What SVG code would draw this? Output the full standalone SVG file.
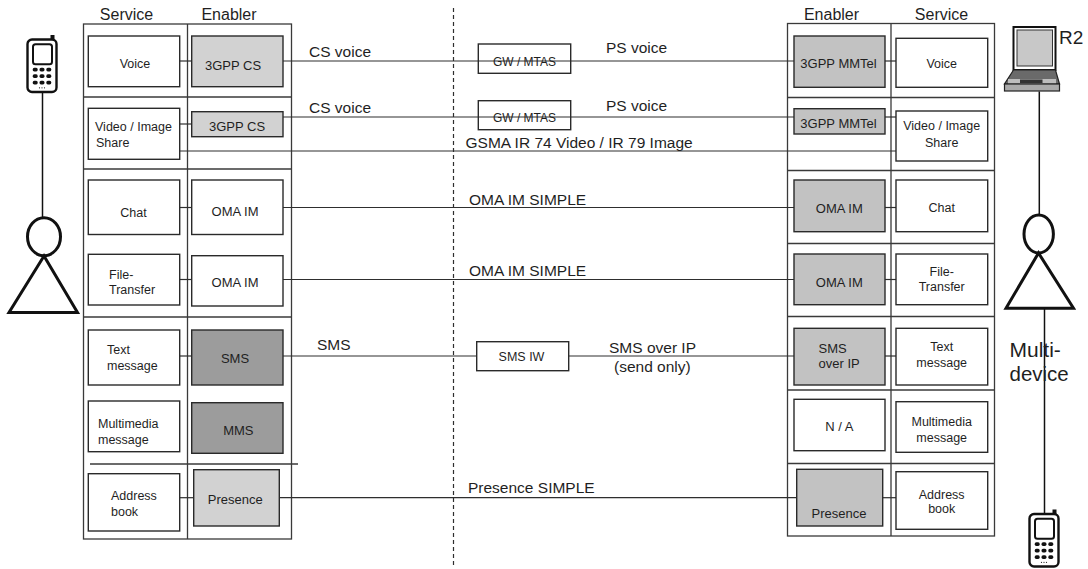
<svg xmlns="http://www.w3.org/2000/svg" width="1088" height="569" viewBox="0 0 1088 569">
  <style>
    text { font-family: "Liberation Sans", Arial, sans-serif; fill: #1f1f1f; }
    .hdr { font-size: 16px; text-anchor: middle; }
    .svc { font-size: 12.5px; }
    .mid { text-anchor: middle; }
    .en { font-size: 13px; text-anchor: middle; }
    .lbl { font-size: 15.5px; }
    .small { font-size: 12px; text-anchor: middle; }
    .tbl { fill: none; stroke: #3a3a3a; stroke-width: 1.3; }
    .box { fill: #ffffff; stroke: #2a2a2a; stroke-width: 1.4; }
    .light { fill: #d2d2d2; stroke: #2a2a2a; stroke-width: 1.4; }
    .mid-gray { fill: #c2c2c2; stroke: #2a2a2a; stroke-width: 1.4; }
    .dark { fill: #9c9c9c; stroke: #2a2a2a; stroke-width: 1.4; }
    .wire { fill: none; stroke: #2e2e2e; stroke-width: 1.2; }
    .fig { fill: none; stroke: #111; stroke-width: 3; }
    .thin { fill: none; stroke: #111; stroke-width: 1.5; }
  </style>
  <defs>
    <!-- mobile handset, origin at top-left of the body -->
    <g id="handset">
      <rect x="23" y="-4.5" width="4" height="6" fill="#111"/>
      <rect x="0" y="0" width="29" height="52.5" rx="4.5" fill="#fff" stroke="#111" stroke-width="2.4"/>
      <rect x="5.5" y="4.8" width="19" height="20" rx="2.5" fill="#fff" stroke="#111" stroke-width="2"/>
      <g fill="#111">
        <rect x="5.2" y="28.3" width="5" height="3.6" rx="1.6"/>
        <rect x="12" y="28.3" width="5" height="3.6" rx="1.6"/>
        <rect x="18.8" y="28.3" width="5" height="3.6" rx="1.6"/>
        <rect x="5.2" y="34.8" width="5" height="3.6" rx="1.6"/>
        <rect x="12" y="34.8" width="5" height="3.6" rx="1.6"/>
        <rect x="18.8" y="34.8" width="5" height="3.6" rx="1.6"/>
        <rect x="5.2" y="41.3" width="5" height="3.6" rx="1.6"/>
        <rect x="12" y="41.3" width="5" height="3.6" rx="1.6"/>
        <rect x="18.8" y="41.3" width="5" height="3.6" rx="1.6"/>
        <circle cx="12" cy="48.3" r="0.6"/>
        <circle cx="14.5" cy="48.3" r="0.6"/>
        <circle cx="17" cy="48.3" r="0.6"/>
      </g>
    </g>
  </defs>

  <!-- domain boundary -->
  <line x1="453.5" y1="8" x2="453.5" y2="565" stroke="#2e2e2e" stroke-width="1.2" stroke-dasharray="4 3"/>

  <!-- left user -->
  <g id="user-left">
    <use href="#handset" transform="translate(27.5,39.5)"/>
    <line class="thin" x1="42.5" y1="92" x2="42.5" y2="218"/>
    <ellipse class="fig" cx="44" cy="236.7" rx="16.5" ry="19"/>
    <polygon class="fig" points="44,256 9,312.5 77.5,312.5"/>
  </g>

  <!-- right user with laptop and handset -->
  <g id="user-right">
    <rect x="1013.5" y="27" width="42" height="43" fill="#fff" stroke="#111" stroke-width="2"/>
    <rect x="1017" y="30" width="35.5" height="36" fill="#c8c8c8" stroke="#333" stroke-width="1"/>
    <polygon points="1013.5,70 1055.5,70 1059.5,84 1004.5,84" fill="#6a6a6a" stroke="#222" stroke-width="1.2"/>
    <rect x="1008" y="79" width="48" height="4.5" fill="#bdbdbd"/>
    <rect x="1020" y="79.5" width="22.5" height="3.5" fill="#333"/>
    <rect x="1004.5" y="84" width="55" height="7" fill="#aaaaaa" stroke="#222" stroke-width="1.2"/>
    <text x="1059" y="43.5" style="font-size:19px">R2</text>
    <line class="thin" x1="1039.3" y1="91.5" x2="1039.3" y2="215"/>
    <ellipse class="fig" cx="1038.7" cy="234" rx="14.7" ry="19"/>
    <polygon class="fig" points="1038.5,253 1006,308.3 1073.5,308.3"/>
    <line class="thin" x1="1044.5" y1="309" x2="1044.5" y2="513"/>
    <text x="1009.5" y="357" style="font-size:21px">Multi-</text>
    <text x="1009.5" y="381" style="font-size:20.5px">device</text>
    <use href="#handset" transform="translate(1029.5,514)"/>
  </g>

  <!-- left table frame -->
  <g id="table-left">
    <text class="hdr" x="126.5" y="20">Service</text>
    <text class="hdr" x="229" y="20">Enabler</text>
    <rect class="tbl" x="83.5" y="24" width="208" height="515"/>
    <line class="tbl" x1="187.5" y1="24" x2="187.5" y2="539"/>
    <line class="tbl" x1="83.5" y1="97" x2="291.5" y2="97"/>
    <line class="tbl" x1="83.5" y1="169" x2="291.5" y2="169"/>
    <line class="tbl" x1="83.5" y1="317" x2="291.5" y2="317"/>
    <line class="tbl" x1="90" y1="464" x2="298" y2="464"/>
  </g>

  <!-- right table frame -->
  <g id="table-right">
    <text class="hdr" x="831.5" y="20">Enabler</text>
    <text class="hdr" x="941.5" y="20">Service</text>
    <rect class="tbl" x="787.5" y="23.5" width="207" height="512.5"/>
    <line class="tbl" x1="891" y1="23.5" x2="891" y2="536"/>
    <line class="tbl" x1="787.5" y1="97.5" x2="994.5" y2="97.5"/>
    <line class="tbl" x1="787.5" y1="170.5" x2="994.5" y2="170.5"/>
    <line class="tbl" x1="787.5" y1="243.5" x2="994.5" y2="243.5"/>
    <line class="tbl" x1="787.5" y1="316.5" x2="994.5" y2="316.5"/>
    <line class="tbl" x1="787.5" y1="390" x2="994.5" y2="390"/>
    <line class="tbl" x1="787.5" y1="463.5" x2="994.5" y2="463.5"/>
  </g>

  <!-- connectors -->
  <g id="connectors">
    <line class="wire" x1="179.7" y1="61" x2="191.7" y2="61"/>
    <line class="wire" x1="283" y1="61" x2="794" y2="61"/>
    <line class="wire" x1="885" y1="61" x2="896" y2="61"/>

    <line class="wire" x1="179.7" y1="124" x2="191.7" y2="124"/>
    <line class="wire" x1="283" y1="117" x2="794" y2="117"/>
    <line class="wire" x1="885" y1="117" x2="896" y2="117"/>
    <line class="wire" x1="179.7" y1="151" x2="896" y2="151"/>

    <line class="wire" x1="179.7" y1="207.5" x2="191.7" y2="207.5"/>
    <line class="wire" x1="283" y1="207.5" x2="794" y2="207.5"/>
    <line class="wire" x1="885" y1="207.5" x2="896" y2="207.5"/>

    <line class="wire" x1="179.7" y1="279.5" x2="191.7" y2="279.5"/>
    <line class="wire" x1="283" y1="279.5" x2="794" y2="279.5"/>
    <line class="wire" x1="885" y1="279.5" x2="896" y2="279.5"/>

    <line class="wire" x1="179.7" y1="356" x2="191.7" y2="356"/>
    <line class="wire" x1="283" y1="356" x2="476.7" y2="356"/>
    <line class="wire" x1="568.7" y1="356" x2="794" y2="356"/>
    <line class="wire" x1="885" y1="356" x2="896" y2="356"/>

    <line class="wire" x1="179.7" y1="497.7" x2="193.7" y2="497.7"/>
    <line class="wire" x1="279.3" y1="497.7" x2="796.7" y2="497.7"/>
    <line class="wire" x1="882.7" y1="497.7" x2="896" y2="497.7"/>

    <text class="lbl" x="309" y="56.7">CS voice</text>
    <text class="lbl" x="606" y="53">PS voice</text>
    <text class="lbl" x="309" y="112.7">CS voice</text>
    <text class="lbl" x="606" y="111">PS voice</text>
    <text class="lbl" x="465.5" y="148.3">GSMA IR 74 Video / IR 79 Image</text>
    <text class="lbl" x="469" y="205">OMA IM SIMPLE</text>
    <text class="lbl" x="469" y="275.5">OMA IM SIMPLE</text>
    <text class="lbl" x="317" y="350">SMS</text>
    <text class="lbl" x="609" y="352.7">SMS over IP</text>
    <text class="lbl" x="614" y="371.7">(send only)</text>
    <text class="lbl" x="468" y="493">Presence SIMPLE</text>
  </g>

  <!-- interworking nodes -->
  <g id="gw-mtas-1">
    <rect x="478.3" y="44" width="92.4" height="29.3" fill="none" stroke="#2a2a2a" stroke-width="1.4"/>
    <text class="small" x="524.5" y="65.5">GW / MTAS</text>
  </g>
  <g id="gw-mtas-2">
    <rect x="478.3" y="100.7" width="92.4" height="29" fill="none" stroke="#2a2a2a" stroke-width="1.4"/>
    <text class="small" x="524.5" y="122">GW / MTAS</text>
  </g>
  <g id="sms-iw">
    <rect class="box" x="476.7" y="341.7" width="92" height="29"/>
    <text class="small" x="521.5" y="361" style="font-size:12.5px">SMS IW</text>
  </g>

  <!-- left services -->
  <g id="l-voice"><rect class="box" x="88.3" y="36" width="91.4" height="50.7"/><text class="svc mid" x="135" y="67.5">Voice</text></g>
  <g id="l-video"><rect class="box" x="88.3" y="108.3" width="91.4" height="51"/><text class="svc" x="95" y="130.7">Video / Image</text><text class="svc" x="96" y="146.7">Share</text></g>
  <g id="l-chat"><rect class="box" x="88.3" y="180" width="91.4" height="54.5"/><text class="svc mid" x="133.5" y="216.7">Chat</text></g>
  <g id="l-file"><rect class="box" x="88.3" y="254.3" width="91.4" height="50.7"/><text class="svc" x="109" y="279.3">File-</text><text class="svc" x="109" y="294.3">Transfer</text></g>
  <g id="l-text"><rect class="box" x="88.3" y="330" width="91.4" height="55"/><text class="svc" x="107" y="354">Text</text><text class="svc" x="107" y="370">message</text></g>
  <g id="l-mm"><rect class="box" x="88.3" y="401" width="91.4" height="50.7"/><text class="svc" x="98" y="427.7">Multimedia</text><text class="svc" x="98" y="444">message</text></g>
  <g id="l-addr"><rect class="box" x="88.3" y="473.7" width="91.4" height="57.3"/><text class="svc" x="111" y="500">Address</text><text class="svc" x="111" y="516">book</text></g>

  <!-- left enablers -->
  <g id="l-cs1"><rect class="light" x="191.7" y="36" width="91.3" height="50.7"/><text class="en" x="233" y="70">3GPP CS</text></g>
  <g id="l-cs2"><rect class="light" x="191.7" y="111.7" width="91.3" height="25"/><text class="en" x="237" y="130.5">3GPP CS</text></g>
  <g id="l-im1"><rect class="box" x="191.7" y="180" width="91.3" height="54.5"/><text class="en" x="235" y="216">OMA IM</text></g>
  <g id="l-im2"><rect class="box" x="191.7" y="255.7" width="91.3" height="50.3"/><text class="en" x="235" y="286.7">OMA IM</text></g>
  <g id="l-sms"><rect class="dark" x="191.7" y="330" width="91.3" height="55"/><text class="en" x="235" y="363.3">SMS</text></g>
  <g id="l-mms"><rect class="dark" x="191.7" y="402.7" width="91.3" height="50.6"/><text class="en" x="238.3" y="435">MMS</text></g>
  <g id="l-pres"><rect class="light" x="193.7" y="469.7" width="85.6" height="56.3"/><text class="en" x="235.3" y="504.3">Presence</text></g>

  <!-- right enablers -->
  <g id="r-mmtel1"><rect class="mid-gray" x="794" y="36" width="91" height="51.3"/><text class="en" x="838.5" y="68.3">3GPP MMTel</text></g>
  <g id="r-mmtel2"><rect class="mid-gray" x="794" y="108.7" width="91" height="25.3"/><text class="en" x="838.5" y="128.3">3GPP MMTel</text></g>
  <g id="r-im1"><rect class="mid-gray" x="794" y="180" width="91" height="51.7"/><text class="en" x="839.3" y="213.3">OMA IM</text></g>
  <g id="r-im2"><rect class="mid-gray" x="794" y="254" width="91" height="50.7"/><text class="en" x="839.3" y="286.7">OMA IM</text></g>
  <g id="r-smsip"><rect class="mid-gray" x="794" y="328.3" width="91" height="56.7"/><text class="en" x="818.5" y="353.3" style="text-anchor:start">SMS</text><text class="en" x="818.5" y="368.3" style="text-anchor:start">over IP</text></g>
  <g id="r-na"><rect class="box" x="794" y="399.3" width="91" height="51.4"/><text class="en" x="839.3" y="430.7">N / A</text></g>
  <g id="r-pres"><rect class="mid-gray" x="796.7" y="469.3" width="86" height="56.7"/><text class="en" x="839" y="518.3">Presence</text></g>

  <!-- right services -->
  <g id="r-voice"><rect class="box" x="896" y="38.3" width="91.7" height="49"/><text class="svc mid" x="941.7" y="68">Voice</text></g>
  <g id="r-video"><rect class="box" x="896" y="111" width="91.7" height="50"/><text class="svc mid" x="941.7" y="130">Video / Image</text><text class="svc mid" x="941.7" y="147.3">Share</text></g>
  <g id="r-chat"><rect class="box" x="896" y="180" width="91.7" height="51.7"/><text class="svc mid" x="941.7" y="211.7">Chat</text></g>
  <g id="r-file"><rect class="box" x="896" y="254" width="91.7" height="50.7"/><text class="svc mid" x="941.7" y="276">File-</text><text class="svc mid" x="941.7" y="290.7">Transfer</text></g>
  <g id="r-text"><rect class="box" x="896" y="328.3" width="91.7" height="56.7"/><text class="svc mid" x="941.7" y="350.7">Text</text><text class="svc mid" x="941.7" y="366.7">message</text></g>
  <g id="r-mm"><rect class="box" x="896" y="401.7" width="91.7" height="50.6"/><text class="svc mid" x="941.7" y="425.7">Multimedia</text><text class="svc mid" x="941.7" y="441.7">message</text></g>
  <g id="r-addr"><rect class="box" x="896" y="471.7" width="91.7" height="57.6"/><text class="svc mid" x="941.7" y="499">Address</text><text class="svc mid" x="941.7" y="513.3">book</text></g>
</svg>
